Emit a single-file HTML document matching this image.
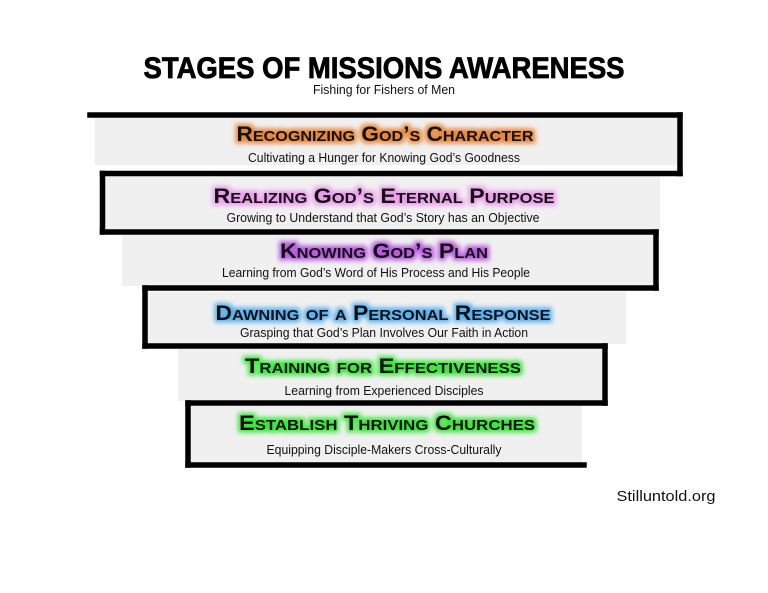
<!DOCTYPE html>
<html><head><meta charset="utf-8"><style>
html,body{margin:0;padding:0;background:#fff;}
svg{display:block;}
.t{font-family:"Liberation Sans",sans-serif;font-weight:bold;font-variant:small-caps;font-size:21px;fill:#111;}
.s{font-family:"Liberation Sans",sans-serif;font-size:12.5px;fill:#111;}
</style></head><body>
<svg width="768" height="593" viewBox="0 0 768 593" xmlns="http://www.w3.org/2000/svg">
<defs>
<filter id="go" x="-10%" y="-50%" width="120%" height="200%"><feMorphology in="SourceAlpha" operator="dilate" radius="2.5"/><feGaussianBlur stdDeviation="2.5" result="b"/><feFlood flood-color="#e8873a"/><feComposite in2="b" operator="in"/></filter>
<filter id="gp" x="-10%" y="-50%" width="120%" height="200%"><feMorphology in="SourceAlpha" operator="dilate" radius="2.5"/><feGaussianBlur stdDeviation="2.5" result="b"/><feFlood flood-color="#ec9cec"/><feComposite in2="b" operator="in"/></filter>
<filter id="gv" x="-10%" y="-50%" width="120%" height="200%"><feMorphology in="SourceAlpha" operator="dilate" radius="2.5"/><feGaussianBlur stdDeviation="2.5" result="b"/><feFlood flood-color="#b95ae0"/><feComposite in2="b" operator="in"/></filter>
<filter id="gb" x="-10%" y="-50%" width="120%" height="200%"><feMorphology in="SourceAlpha" operator="dilate" radius="2.5"/><feGaussianBlur stdDeviation="2.5" result="b"/><feFlood flood-color="#5ab0ee"/><feComposite in2="b" operator="in"/></filter>
<filter id="gg" x="-10%" y="-50%" width="120%" height="200%"><feMorphology in="SourceAlpha" operator="dilate" radius="2.5"/><feGaussianBlur stdDeviation="2.5" result="b"/><feFlood flood-color="#3ae83a"/><feComposite in2="b" operator="in"/></filter>
</defs>

<text x="384" y="78" text-anchor="middle" font-family="Liberation Sans,sans-serif" font-weight="bold" font-size="30" textLength="481" lengthAdjust="spacingAndGlyphs" fill="#000" stroke="#000" stroke-width="0.8">STAGES OF MISSIONS AWARENESS</text>
<text x="384" y="94" text-anchor="middle" class="s" font-size="11.5" textLength="142" lengthAdjust="spacingAndGlyphs">Fishing for Fishers of Men</text>

<g fill="#f0f0f0">
<rect x="95" y="118" width="582" height="47"/>
<rect x="105" y="176" width="555" height="54"/>
<rect x="122" y="235" width="531" height="51"/>
<rect x="145" y="292" width="481" height="52"/>
<rect x="178" y="349" width="424" height="52"/>
<rect x="190" y="406" width="392" height="57"/>
</g>

<g stroke="#000" stroke-width="5.5" fill="none" stroke-linecap="square">
<line x1="90" y1="115" x2="680" y2="115"/>
<line x1="680" y1="115" x2="680" y2="173.5"/>
<line x1="102.5" y1="173.5" x2="680" y2="173.5"/>
<line x1="102.5" y1="173.5" x2="102.5" y2="232"/>
<line x1="102.5" y1="232" x2="656" y2="232"/>
<line x1="656" y1="232" x2="656" y2="288"/>
<line x1="145" y1="288" x2="656" y2="288"/>
<line x1="145" y1="288" x2="145" y2="346"/>
<line x1="145" y1="346" x2="605" y2="346"/>
<line x1="605" y1="346" x2="605" y2="403"/>
<line x1="188" y1="403" x2="605" y2="403"/>
<line x1="188" y1="403" x2="188" y2="465"/>
<line x1="188" y1="465" x2="584" y2="465"/>
</g>

<g text-anchor="middle">
<g><text class="t" x="385" y="141" textLength="297" lengthAdjust="spacingAndGlyphs" filter="url(#go)">Recognizing God’s Character</text><text class="t" x="385" y="141" textLength="297" lengthAdjust="spacingAndGlyphs">Recognizing God’s Character</text></g>
<text class="s" x="384" y="162" textLength="272" lengthAdjust="spacingAndGlyphs">Cultivating a Hunger for Knowing God’s Goodness</text>

<g><text class="t" x="384" y="203" textLength="341" lengthAdjust="spacingAndGlyphs" filter="url(#gp)">Realizing God’s Eternal Purpose</text><text class="t" x="384" y="203" textLength="341" lengthAdjust="spacingAndGlyphs">Realizing God’s Eternal Purpose</text></g>
<text class="s" x="383" y="222" textLength="313" lengthAdjust="spacingAndGlyphs">Growing to Understand that God’s Story has an Objective</text>

<g><text class="t" x="384" y="258" textLength="208" lengthAdjust="spacingAndGlyphs" filter="url(#gv)">Knowing God’s Plan</text><text class="t" x="384" y="258" textLength="208" lengthAdjust="spacingAndGlyphs">Knowing God’s Plan</text></g>
<text class="s" x="376" y="277" textLength="308" lengthAdjust="spacingAndGlyphs">Learning from God’s Word of His Process and His People</text>

<g><text class="t" x="383" y="320" textLength="335" lengthAdjust="spacingAndGlyphs" filter="url(#gb)">Dawning of a Personal Response</text><text class="t" x="383" y="320" textLength="335" lengthAdjust="spacingAndGlyphs">Dawning of a Personal Response</text></g>
<text class="s" x="384" y="337" textLength="288" lengthAdjust="spacingAndGlyphs">Grasping that God’s Plan Involves Our Faith in Action</text>

<g><text class="t" x="383" y="373" textLength="276" lengthAdjust="spacingAndGlyphs" filter="url(#gg)">Training for Effectiveness</text><text class="t" x="383" y="373" textLength="276" lengthAdjust="spacingAndGlyphs">Training for Effectiveness</text></g>
<text class="s" x="384" y="395" textLength="199" lengthAdjust="spacingAndGlyphs">Learning from Experienced Disciples</text>

<g><text class="t" x="387" y="430" textLength="296" lengthAdjust="spacingAndGlyphs" filter="url(#gg)">Establish Thriving Churches</text><text class="t" x="387" y="430" textLength="296" lengthAdjust="spacingAndGlyphs">Establish Thriving Churches</text></g>
<text class="s" x="384" y="454" textLength="235" lengthAdjust="spacingAndGlyphs">Equipping Disciple-Makers Cross-Culturally</text>
</g>

<text x="666" y="501" text-anchor="middle" font-family="Liberation Sans,sans-serif" font-size="15" fill="#111" textLength="99" lengthAdjust="spacingAndGlyphs">Stilluntold.org</text>
</svg>
</body></html>
